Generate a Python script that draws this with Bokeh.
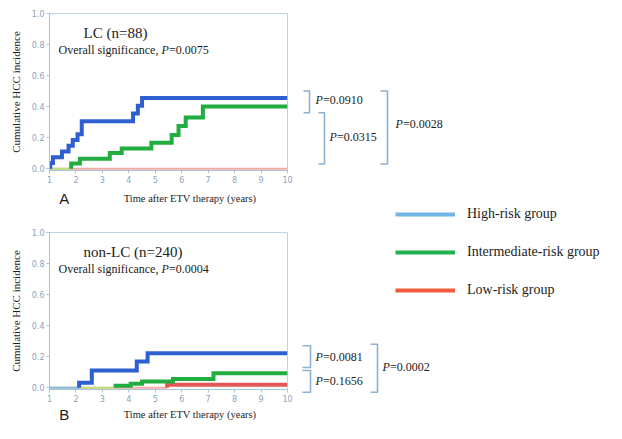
from bokeh.plotting import figure
from bokeh.models import Range1d, FixedTicker, Label, Legend, LegendItem, PrintfTickFormatter
from bokeh.layouts import row, column
from bokeh.embed import file_html
from bokeh.resources import INLINE

# ---------------- data ----------------
x_ticks = [1, 2, 3, 4, 5, 6, 7, 8, 9, 10]
y_ticks = [0.0, 0.2, 0.4, 0.6, 0.8, 1.0]

# Panel A: LC (n=88)
lc_high_t = [1.0, 1.03, 1.13, 1.47, 1.72, 1.88, 2.06, 2.22, 4.16, 4.34, 4.50, 10.0]
lc_high_y = [0.0, 0.037, 0.074, 0.111, 0.148, 0.185, 0.222, 0.305, 0.355, 0.405, 0.455, 0.455]
lc_int_t = [1.0, 1.82, 2.15, 3.28, 3.73, 4.85, 5.62, 5.88, 6.15, 6.80, 10.0]
lc_int_y = [0.0, 0.033, 0.063, 0.100, 0.130, 0.167, 0.217, 0.275, 0.330, 0.400, 0.400]
lc_low_t = [1.0, 10.0]
lc_low_y = [0.0, 0.0]

# Panel B: non-LC (n=240)
nlc_high_t = [1.0, 2.12, 2.60, 4.30, 4.71, 10.0]
nlc_high_y = [0.0, 0.031, 0.111, 0.169, 0.222, 0.222]
nlc_int_t = [1.0, 3.50, 4.07, 4.50, 5.67, 7.20, 10.0]
nlc_int_y = [0.0, 0.012, 0.025, 0.040, 0.055, 0.093, 0.093]
nlc_low_t = [1.0, 5.45, 10.0]
nlc_low_y = [0.0, 0.018, 0.018]

legend_labels = ["High-risk group", "Intermediate-risk group", "Low-risk group"]

# pairwise log-rank brackets (top / bottom of bracket, label y) in incidence units
a_br_top = [0.50, 0.36, 0.50]
a_br_bot = [0.36, 0.03, 0.03]
a_br_lab_y = [0.44, 0.205, 0.29]
a_br_p = ["=0.0910", "=0.0315", "=0.0028"]

b_br_top = [0.27, 0.11, 0.28]
b_br_bot = [0.13, -0.03, -0.03]
b_br_lab_y = [0.20, 0.04, 0.13]
b_br_p = ["=0.0081", "=0.1656", "=0.0002"]

# ---------------- styling / layout constants ----------------
SERIF = "Liberation Serif"
SANS = "DejaVu Sans"
TXT = "#1c1c1c"
THICK = ["#2e5fd1", "#21ad3f", "#e2575a"]
THIN = ["#86bde9", "#bfe07a", "#f2aaa4"]
LEG = ["#72b4e6", "#22b04e", "#ef5b3c"]
AXC = "#a9c3db"
TICKC = "#8aa3be"
BRC = "#8eb0cf"

YMIN, YMAX = -0.012, 1.0
FRAME_H = 157
LEFT_W = 293
FRAME_L = 49
A_H, A_TOP = 186, 13
STRIP_A_H = 20
B_H, B_TOP = 199, 26
STRIP_B_H = 18
TOTAL_H = A_H + STRIP_A_H + B_H + STRIP_B_H
RIGHT_W = 606 - LEFT_W


def panel(h, top, title, overall_p, series):
    p = figure(width=LEFT_W, height=h, x_range=Range1d(1, 10), y_range=Range1d(YMIN, YMAX),
               output_backend="svg", toolbar_location=None,
               min_border_left=FRAME_L, min_border_right=6, min_border_top=top,
               min_border_bottom=h - top - FRAME_H)
    p.grid.visible = False
    p.outline_line_color = "#bfd3e6"
    p.xaxis.ticker = FixedTicker(ticks=x_ticks)
    p.yaxis.ticker = FixedTicker(ticks=y_ticks)
    p.yaxis.formatter = PrintfTickFormatter(format="%.1f")
    for ax in (p.xaxis, p.yaxis):
        ax.axis_line_color = AXC
        ax.major_tick_line_color = AXC
        ax.major_tick_out = 3
        ax.major_tick_in = 0
        ax.minor_tick_line_color = None
        ax.major_label_text_font = SANS
        ax.major_label_text_font_size = "8px"
        ax.major_label_text_color = TICKC
        ax.major_label_standoff = 2
        ax.axis_label_text_font = SERIF
        ax.axis_label_text_font_size = "11px"
        ax.axis_label_text_font_style = "normal"
        ax.axis_label_text_color = TXT
    p.yaxis.axis_label = "Cumulative HCC incidence"
    p.yaxis.axis_label_standoff = 7

    # thin lines at zero before the first event (drawn low -> high)
    for (t, y), c in reversed(list(zip(series, THIN))):
        k = next((i for i, v in enumerate(y) if v > 0), len(y) - 1)
        p.line(x=[t[0], t[k]], y=[y[0], y[0]], line_color=c, line_width=2)
    # thick step curves from first event on
    for (t, y), c in reversed(list(zip(series, THICK))):
        k = next((i for i, v in enumerate(y) if v > 0), None)
        if k is None:
            continue
        xs = [t[k]] + t[k:]
        ys = [y[0]] + y[k:]
        p.step(x=xs, y=ys, mode="after", line_color=c, line_width=4, line_join="miter")

    tx = 1.0 + 34 / 26.4
    p.add_layout(Label(x=tx, y=0.876, text=title, text_font=SERIF, text_font_size="15px",
                       text_color=TXT, text_baseline="middle"))
    ox = 1.34
    p.add_layout(Label(x=ox, y=0.764, text="Overall significance, ", text_font=SERIF,
                       text_font_size="12px", text_color=TXT, text_baseline="middle"))
    p.add_layout(Label(x=ox, y=0.764, x_offset=103, text="P", text_font=SERIF,
                       text_font_style="italic", text_font_size="12px", text_color=TXT,
                       text_baseline="middle"))
    p.add_layout(Label(x=ox, y=0.764, x_offset=110.5, text=overall_p, text_font=SERIF,
                       text_font_size="12px", text_color=TXT, text_baseline="middle"))
    return p


def strip(h, letter, dy):
    s = figure(width=LEFT_W, height=h, x_range=Range1d(0, LEFT_W), y_range=Range1d(0, h),
               output_backend="svg", toolbar_location=None, min_border=0,
               x_axis_location=None, y_axis_location=None)
    s.grid.visible = False
    s.outline_line_color = None
    s.add_layout(Label(x=12, y=h / 2 + dy, text=letter, text_font="Liberation Sans",
                       text_font_size="15px", text_color=TXT, text_baseline="middle"))
    s.add_layout(Label(x=(FRAME_L + LEFT_W - 6) / 2 + 5, y=h / 2 + dy,
                       text="Time after ETV therapy (years)", text_font=SERIF,
                       text_font_size="10.5px", text_color=TXT, text_baseline="middle",
                       text_align="center"))
    return s


pA = panel(A_H, A_TOP, "LC (n=88)", "=0.0075",
           [(lc_high_t, lc_high_y), (lc_int_t, lc_int_y), (lc_low_t, lc_low_y)])
sA = strip(STRIP_A_H, "A", -2)
pB = panel(B_H, B_TOP, "non-LC (n=240)", "=0.0004",
           [(nlc_high_t, nlc_high_y), (nlc_int_t, nlc_int_y), (nlc_low_t, nlc_low_y)])
sB = strip(STRIP_B_H, "B", 0.5)

# ---------------- right column: brackets + legend ----------------
pR = figure(width=RIGHT_W, height=TOTAL_H, x_range=Range1d(0, RIGHT_W), y_range=Range1d(0, TOTAL_H),
            output_backend="svg", toolbar_location=None, min_border=0,
            x_axis_location=None, y_axis_location=None)
pR.grid.visible = False
pR.outline_line_color = None

scale = (YMAX - YMIN) / FRAME_H
fa_top = A_TOP
fb_top = A_H + STRIP_A_H + B_TOP
pR.extra_y_ranges = {
    "A": Range1d(start=YMAX - (TOTAL_H - fa_top) * scale, end=YMAX + fa_top * scale),
    "B": Range1d(start=YMAX - (TOTAL_H - fb_top) * scale, end=YMAX + fb_top * scale),
}


def brackets(name, tops, bots, xl, xr, lab_x, lab_y, ptxt):
    xs = [[a, b, b, a] for a, b in zip(xl, xr)]
    ys = [[t, t, bo, bo] for t, bo in zip(tops, bots)]
    pR.multi_line(xs=xs, ys=ys, line_color=BRC, line_width=1.6, y_range_name=name)
    for lx, ly, pt in zip(lab_x, lab_y, ptxt):
        pR.add_layout(Label(x=lx, y=ly, y_range_name=name, text="P", text_font=SERIF,
                            text_font_style="italic", text_font_size="12px", text_color=TXT,
                            text_baseline="middle"))
        pR.add_layout(Label(x=lx, y=ly, x_offset=7.4, y_range_name=name, text=pt, text_font=SERIF,
                            text_font_size="12px", text_color=TXT, text_baseline="middle"))


brackets("A", a_br_top, a_br_bot, [10, 25, 87], [16, 31, 94], [22, 36, 102], a_br_lab_y, a_br_p)
brackets("B", b_br_top, b_br_bot, [9, 9, 77], [17, 17, 84], [22, 22, 89], b_br_lab_y, b_br_p)

# legend keys: renderers kept outside the visible range, only their legend glyph shows
items = []
for lab, c in zip(legend_labels, LEG):
    r = pR.line(x=[-20, -10], y=[-20, -20], line_color=c, line_width=4)
    items.append(LegendItem(label=lab, renderers=[r]))
leg = Legend(items=items, location=(102, 123), glyph_width=60, glyph_height=20, label_height=20,
             label_width=140, label_standoff=12, spacing=18, padding=0, margin=0,
             border_line_color=None, background_fill_alpha=0, label_text_font=SERIF,
             label_text_font_size="14px", label_text_color=TXT)
pR.add_layout(leg)

layout = row(column(pA, sA, pB, sB), pR)
open("out.html", "w").write(file_html(layout, INLINE))
